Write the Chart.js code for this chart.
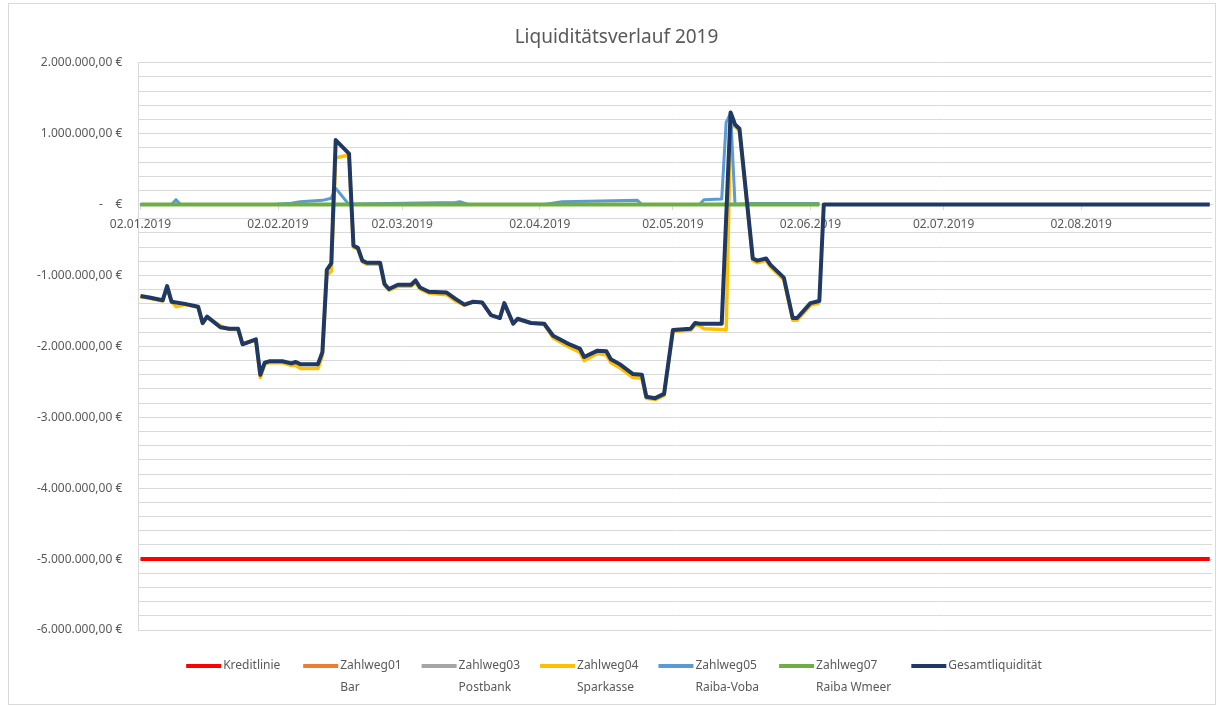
<!DOCTYPE html>
<html>
<head>
<meta charset="utf-8">
<script src="https://cdn.jsdelivr.net/npm/chart.js@4.4.1/dist/chart.umd.min.js"></script>
<style>
  html, body { margin: 0; padding: 0; background: #fff; }
  #wrap { width: 1220px; height: 707px; position: relative; }
</style>
</head>
<body>
<div id="wrap"><canvas id="js-line-chart"></canvas></div>
<script>
// series names (legend), second legend line
const seriesNames = ["Kreditlinie", "Zahlweg01", "Zahlweg03", "Zahlweg04", "Zahlweg05", "Zahlweg07", "Gesamtliquidität"];
const seriesSubNames = ["", "Bar", "Postbank", "Sparkasse", "Raiba-Voba", "Raiba Wmeer", ""];
const seriesColors = ["#ff0000", "#ed7d31", "#a5a5a5", "#ffc000", "#5b9bd5", "#70ad47", "#203864"];
const seriesWidths = [4, 3, 3, 3.5, 3, 4, 4];

// x tick labels
const tickDates = ["02.01.2019", "02.02.2019", "02.03.2019", "02.04.2019", "02.05.2019", "02.06.2019", "02.07.2019", "02.08.2019"];

const kreditDates = ["02.01", "31.08"];
const kreditValues = [-5000000, -5000000];

const zahlweg01Dates = ["02.01", "04.06"];
const zahlweg01Values = [0, 0];

const zahlweg03Dates = ["02.01", "04.06"];
const zahlweg03Values = [0, 0];

const zahlweg07Dates = ["02.01", "04.06"];
const zahlweg07Values = [0, 0];

const zahlweg05Dates = ["02.01", "09.01", "10.01", "11.01", "01.02", "05.02", "07.02", "12.02", "14.02", "15.02", "18.02", "19.02",
  "14.03", "15.03", "17.03", "03.04", "07.04", "24.04", "25.04", "08.05", "09.05", "13.05", "14.05", "15.05", "16.05",
  "19.05", "04.06"];
const zahlweg05Values = [0, 0, 70000, 0, 0, 20000, 40000, 60000, 90000, 230000, 0, 10000,
  30000, 40000, 0, 0, 40000, 60000, 0, 0, 70000, 80000, 1160000, 1290000, 0,
  15000, 15000];

const zahlweg04Dates = ["02.01", "04.01", "07.01", "08.01", "09.01", "10.01", "12.01", "15.01", "16.01", "17.01", "20.01", "22.01",
  "24.01", "25.01", "28.01", "29.01", "30.01", "31.01", "03.02", "05.02", "06.02", "07.02", "11.02", "12.02", "13.02", "14.02",
  "15.02", "18.02", "19.02", "20.02", "21.02", "22.02", "25.02", "26.02", "27.02", "01.03", "04.03", "05.03", "06.03", "08.03",
  "12.03", "14.03", "16.03", "18.03", "20.03", "22.03", "24.03", "25.03", "27.03", "28.03", "31.03", "03.04", "05.04", "08.04",
  "09.04", "11.04", "12.04", "15.04", "17.04", "18.04", "20.04", "23.04", "25.04", "26.04", "28.04", "30.04", "02.05", "06.05",
  "07.05", "08.05", "09.05", "13.05", "14.05", "15.05", "16.05", "17.05", "20.05", "21.05", "23.05", "24.05", "26.05", "27.05",
  "29.05", "30.05", "02.06", "04.06"];
const zahlweg04Values = [-1300000, -1320000, -1360000, -1170000, -1370000, -1440000, -1410000, -1450000, -1680000, -1590000, -1710000, -1760000,
  -1760000, -1960000, -1910000, -2440000, -2250000, -2230000, -2230000, -2270000, -2270000, -2310000, -2310000, -2130000, -1000000, -940000,
  660000, 700000, -600000, -630000, -810000, -840000, -840000, -1140000, -1210000, -1150000, -1150000, -1100000, -1190000, -1250000,
  -1270000, -1360000, -1420000, -1370000, -1380000, -1560000, -1600000, -1400000, -1680000, -1620000, -1670000, -1690000, -1880000, -1990000,
  -2020000, -2080000, -2200000, -2100000, -2120000, -2230000, -2300000, -2440000, -2450000, -2730000, -2750000, -2690000, -1790000, -1770000,
  -1700000, -1710000, -1750000, -1760000, -1770000, 1100000, 1100000, 1040000, -790000, -820000, -790000, -880000, -1000000, -1060000,
  -1630000, -1630000, -1420000, -1390000];

const gesamtDates = ["02.01", "04.01", "07.01", "08.01", "09.01", "12.01", "15.01", "16.01", "17.01", "20.01", "22.01", "24.01",
  "25.01", "28.01", "29.01", "30.01", "31.01", "03.02", "05.02", "06.02", "07.02", "11.02", "12.02", "13.02", "14.02", "15.02",
  "18.02", "19.02", "20.02", "21.02", "22.02", "25.02", "26.02", "27.02", "01.03", "04.03", "05.03", "06.03", "08.03", "12.03",
  "14.03", "16.03", "18.03", "20.03", "22.03", "24.03", "25.03", "27.03", "28.03", "31.03", "03.04", "05.04", "08.04", "09.04",
  "11.04", "12.04", "15.04", "17.04", "18.04", "20.04", "23.04", "25.04", "26.04", "28.04", "30.04", "02.05", "06.05", "07.05",
  "08.05", "13.05", "15.05", "16.05", "17.05", "20.05", "21.05", "23.05", "24.05", "26.05", "27.05", "29.05", "30.05", "02.06",
  "04.06", "05.06", "31.08"];
const gesamtValues = [-1290000, -1310000, -1350000, -1150000, -1370000, -1400000, -1440000, -1670000, -1580000, -1730000, -1750000, -1750000,
  -1970000, -1900000, -2400000, -2230000, -2210000, -2210000, -2240000, -2220000, -2250000, -2250000, -2080000, -920000, -830000, 910000,
  720000, -580000, -610000, -790000, -820000, -820000, -1120000, -1190000, -1130000, -1130000, -1070000, -1170000, -1230000, -1240000,
  -1330000, -1410000, -1370000, -1380000, -1560000, -1600000, -1390000, -1680000, -1610000, -1670000, -1680000, -1850000, -1950000, -1980000,
  -2030000, -2150000, -2060000, -2070000, -2180000, -2250000, -2390000, -2400000, -2710000, -2730000, -2670000, -1770000, -1750000, -1670000,
  -1680000, -1680000, 1300000, 1130000, 1070000, -760000, -790000, -760000, -850000, -970000, -1030000, -1600000, -1600000, -1390000,
  -1360000, 0, 0];

const dayIndex = (s) => {
    const [d, m] = s.split(".").map(Number);
    return (Date.UTC(2019, m - 1, d) - Date.UTC(2019, 0, 2)) / 86400000;
};

const toPoints = (dates, values) => dates.map((d, i) => ({ x: dayIndex(d), y: values[i] }));

const euro = (v) => {
    if (v === 0) return "-    €";
    const s = Math.abs(v).toFixed(0).replace(/\B(?=(\d{3})+(?!\d))/g, ".");
    return (v < 0 ? "-" : "") + s + ",00 €";
};

const seriesData = [
    toPoints(kreditDates, kreditValues),
    toPoints(zahlweg01Dates, zahlweg01Values),
    toPoints(zahlweg03Dates, zahlweg03Values),
    toPoints(zahlweg04Dates, zahlweg04Values),
    toPoints(zahlweg05Dates, zahlweg05Values),
    toPoints(zahlweg07Dates, zahlweg07Values),
    toPoints(gesamtDates, gesamtValues),
];

// legend with two text lines, drawn under the chart
const bottomLegend = {
    id: "bottomLegend",
    afterDraw(chart) {
        const ctx = chart.ctx;
        ctx.save();
        // outer frame
        ctx.strokeStyle = "#d9d9d9";
        ctx.lineWidth = 1;
        ctx.strokeRect(8.5, 3.5, chart.width - 13, chart.height - 6);

        ctx.font = '12px "Noto Sans", sans-serif';
        const lineW = 35, gap = 2, spacing = 20;
        const widths = seriesNames.map((n, i) => {
            const w = Math.max(ctx.measureText(n).width, ctx.measureText(seriesSubNames[i]).width, 60);
            return lineW + gap + w;
        });
        const total = widths.reduce((a, b) => a + b, 0) + spacing * (widths.length - 1);
        let x = chart.width / 2 + 4 - total / 2;
        const y1 = chart.height - 41;
        const y2 = chart.height - 19;
        ctx.textBaseline = "middle";
        ctx.textAlign = "left";
        seriesNames.forEach((n, i) => {
            ctx.strokeStyle = seriesColors[i];
            ctx.lineWidth = 4;
            ctx.beginPath();
            ctx.moveTo(x, y1);
            ctx.lineTo(x + lineW, y1);
            ctx.stroke();
            ctx.fillStyle = "#595959";
            ctx.fillText(n, x + lineW + gap, y1);
            if (seriesSubNames[i]) ctx.fillText(seriesSubNames[i], x + lineW + gap, y2);
            x += widths[i] + spacing;
        });
        ctx.restore();
    },
};

const init = () => {
    Chart.defaults.font.family = '"Noto Sans", sans-serif';
    Chart.defaults.color = "#595959";

    const ctx = document.getElementById("js-line-chart").getContext("2d");
    new Chart(ctx, {
        type: "line",
        data: {
            datasets: seriesNames.map((name, i) => ({
                label: name,
                data: seriesData[i],
                borderColor: seriesColors[i],
                backgroundColor: seriesColors[i],
                borderWidth: seriesWidths[i],
                borderJoinStyle: "round",
                pointRadius: 0,
                tension: 0,
                order: 7 - i,
            })),
        },
        options: {
            responsive: true,
            maintainAspectRatio: false,
            animation: false,
            layout: { padding: { left: 21, right: 8, top: 10, bottom: 77 } },
            plugins: {
                legend: { display: false },
                tooltip: { enabled: false },
                title: {
                    display: true,
                    text: "Liquiditätsverlauf 2019",
                    color: "#595959",
                    font: { size: 19, weight: "normal" },
                    padding: { top: 16, bottom: 14 },
                },
            },
            scales: {
                x: {
                    type: "linear",
                    position: { y: 0 },
                    min: -0.5,
                    max: 241.5,
                    afterBuildTicks: (scale) => {
                        scale.ticks = tickDates.map((d) => ({ value: dayIndex(d) }));
                    },
                    grid: { drawOnChartArea: false, drawTicks: true, tickLength: 5, color: "#d9d9d9" },
                    border: { color: "#d9d9d9" },
                    ticks: {
                        autoSkip: false,
                        maxRotation: 0,
                        padding: 8,
                        font: { size: 12 },
                        callback: (v) => {
                            const dt = new Date(Date.UTC(2019, 0, 2) + v * 86400000);
                            const dd = String(dt.getUTCDate()).padStart(2, "0");
                            const mm = String(dt.getUTCMonth() + 1).padStart(2, "0");
                            return dd + "." + mm + "." + dt.getUTCFullYear();
                        },
                    },
                },
                y: {
                    min: -6000000,
                    max: 2000000,
                    grid: { color: "#d9d9d9", drawTicks: false },
                    border: { color: "#d9d9d9" },
                    ticks: {
                        stepSize: 200000,
                        maxTicksLimit: 100,
                        autoSkip: false,
                        padding: 16,
                        font: { size: 12 },
                        callback: (v) => (Math.abs(v % 1000000) < 1 ? euro(v) : ""),
                    },
                },
            },
        },
        plugins: [bottomLegend],
    });
};

init();
</script>
</body>
</html>
